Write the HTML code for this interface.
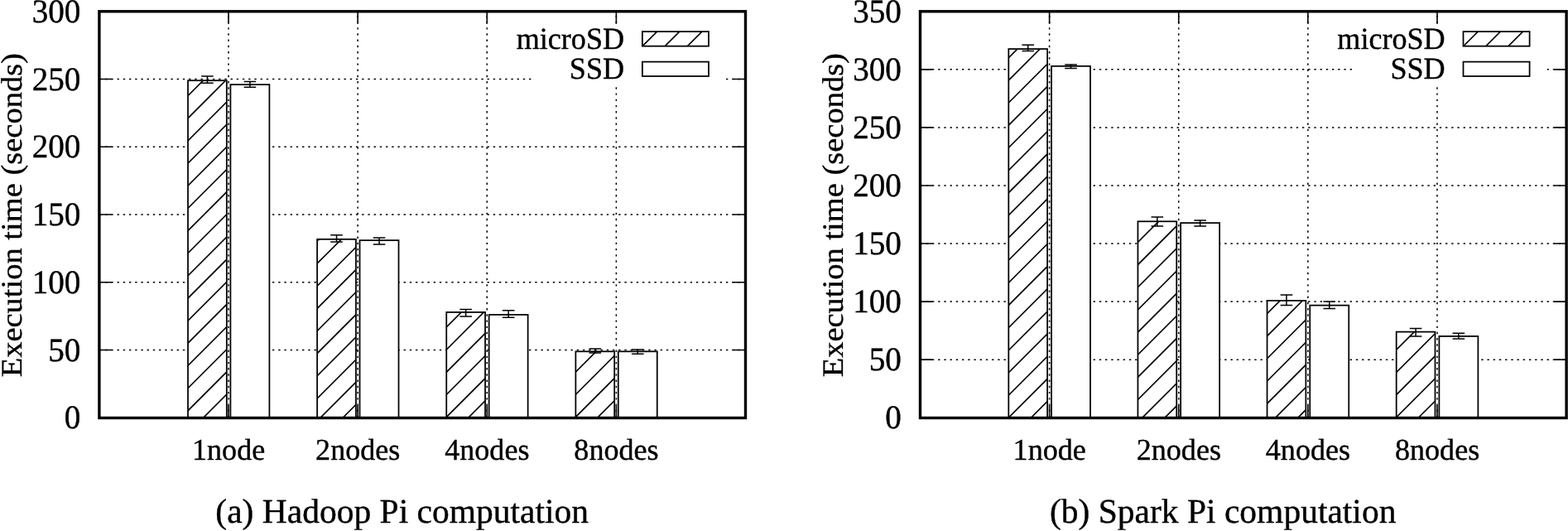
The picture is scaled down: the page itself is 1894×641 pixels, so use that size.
<!DOCTYPE html>
<html lang="en"><head><meta charset="utf-8"><title>Pi computation execution time</title>
<style>html,body{margin:0;padding:0;background:#fff;}body{width:1894px;height:641px;overflow:hidden;}svg{display:block;}text{font-family:"Liberation Serif", "Times New Roman", Times, serif;fill:#000;stroke:#000;stroke-width:0.4px;stroke-linejoin:round;text-rendering:geometricPrecision;}</style></head><body>
<svg width="1894" height="641" viewBox="0 0 1894 641">
<rect width="1894" height="641" fill="#fff"/>
<g transform="translate(0.00 0)">
<path d="M119.90 422.47H900.50M119.90 340.73H900.50M119.90 259.00H900.50M119.90 177.27H900.50M119.90 95.53H900.50M276.02 504.20V13.80M432.14 504.20V13.80M588.26 504.20V13.80M744.38 504.20V13.80" stroke="#000" stroke-width="1.5" stroke-dasharray="2.4 4.81" fill="none"/>
<path d="M119.90 422.47h15.0M900.50 422.47h-15.0M119.90 340.73h15.0M900.50 340.73h-15.0M119.90 259.00h15.0M900.50 259.00h-15.0M119.90 177.27h15.0M900.50 177.27h-15.0M119.90 95.53h15.0M900.50 95.53h-15.0M276.02 504.20v-15.0M276.02 13.80v15.0M432.14 504.20v-15.0M432.14 13.80v15.0M588.26 504.20v-15.0M588.26 13.80v15.0M744.38 504.20v-15.0M744.38 13.80v15.0" stroke="#000" stroke-width="1.6" fill="none"/>
<clipPath id="c1"><rect x="227.02" y="97.20" width="46.80" height="407.00"/></clipPath><rect x="227.02" y="97.20" width="46.80" height="407.00" fill="#fff"/><path d="M225.02 117.57L275.82 66.77M225.02 144.72L275.82 93.92M225.02 171.88L275.82 121.08M225.02 199.03L275.82 148.23M225.02 226.18L275.82 175.38M225.02 253.33L275.82 202.53M225.02 280.49L275.82 229.69M225.02 307.64L275.82 256.84M225.02 334.79L275.82 283.99M225.02 361.95L275.82 311.15M225.02 389.10L275.82 338.30M225.02 416.25L275.82 365.45M225.02 443.40L275.82 392.60M225.02 470.56L275.82 419.76M225.02 497.71L275.82 446.91M225.02 524.86L275.82 474.06M225.02 552.02L275.82 501.22" stroke="#000" stroke-width="1.65" fill="none" clip-path="url(#c1)"/><rect x="227.02" y="97.20" width="46.80" height="407.00" fill="none" stroke="#000" stroke-width="1.75"/>
<rect x="278.42" y="102.10" width="47.00" height="402.10" fill="#fff" stroke="#000" stroke-width="1.75"/>
<path d="M250.42 91.90V100.30M243.12 91.90H257.72M243.12 100.30H257.72" stroke="#000" stroke-width="1.5" fill="none"/>
<path d="M301.92 98.60V105.20M294.62 98.60H309.22M294.62 105.20H309.22" stroke="#000" stroke-width="1.5" fill="none"/>
<clipPath id="c2"><rect x="383.14" y="288.80" width="46.80" height="215.40"/></clipPath><rect x="383.14" y="288.80" width="46.80" height="215.40" fill="#fff"/><path d="M381.14 292.89L431.94 242.09M381.14 320.04L431.94 269.24M381.14 347.19L431.94 296.39M381.14 374.35L431.94 323.55M381.14 401.50L431.94 350.70M381.14 428.65L431.94 377.85M381.14 455.81L431.94 405.01M381.14 482.96L431.94 432.16M381.14 510.11L431.94 459.31M381.14 537.26L431.94 486.46" stroke="#000" stroke-width="1.65" fill="none" clip-path="url(#c2)"/><rect x="383.14" y="288.80" width="46.80" height="215.40" fill="none" stroke="#000" stroke-width="1.75"/>
<rect x="434.54" y="290.10" width="47.00" height="214.10" fill="#fff" stroke="#000" stroke-width="1.75"/>
<path d="M406.54 283.80V291.90M399.24 283.80H413.84M399.24 291.90H413.84" stroke="#000" stroke-width="1.5" fill="none"/>
<path d="M458.04 287.10V295.10M450.74 287.10H465.34M450.74 295.10H465.34" stroke="#000" stroke-width="1.5" fill="none"/>
<clipPath id="c3"><rect x="539.26" y="376.90" width="46.80" height="127.30"/></clipPath><rect x="539.26" y="376.90" width="46.80" height="127.30" fill="#fff"/><path d="M537.26 396.90L588.06 346.10M537.26 424.05L588.06 373.25M537.26 451.20L588.06 400.40M537.26 478.36L588.06 427.56M537.26 505.51L588.06 454.71M537.26 532.66L588.06 481.86" stroke="#000" stroke-width="1.65" fill="none" clip-path="url(#c3)"/><rect x="539.26" y="376.90" width="46.80" height="127.30" fill="none" stroke="#000" stroke-width="1.75"/>
<rect x="590.66" y="379.90" width="47.00" height="124.30" fill="#fff" stroke="#000" stroke-width="1.75"/>
<path d="M562.66 373.60V381.90M555.36 373.60H569.96M555.36 381.90H569.96" stroke="#000" stroke-width="1.5" fill="none"/>
<path d="M614.16 374.80V383.30M606.86 374.80H621.46M606.86 383.30H621.46" stroke="#000" stroke-width="1.5" fill="none"/>
<clipPath id="c4"><rect x="695.38" y="424.30" width="46.80" height="79.90"/></clipPath><rect x="695.38" y="424.30" width="46.80" height="79.90" fill="#fff"/><path d="M693.38 451.03L744.18 400.23M693.38 478.18L744.18 427.38M693.38 505.33L744.18 454.53M693.38 532.49L744.18 481.69" stroke="#000" stroke-width="1.65" fill="none" clip-path="url(#c4)"/><rect x="695.38" y="424.30" width="46.80" height="79.90" fill="none" stroke="#000" stroke-width="1.75"/>
<rect x="746.78" y="424.30" width="47.00" height="79.90" fill="#fff" stroke="#000" stroke-width="1.75"/>
<path d="M718.78 420.90V426.10M711.48 420.90H726.08M711.48 426.10H726.08" stroke="#000" stroke-width="1.5" fill="none"/>
<path d="M770.28 422.10V427.30M762.98 422.10H777.58M762.98 427.30H777.58" stroke="#000" stroke-width="1.5" fill="none"/>
<rect x="644" y="29.5" width="233" height="73" fill="#fff"/>
<clipPath id="c5"><rect x="775.90" y="38.15" width="80.10" height="17.55"/></clipPath><rect x="775.90" y="38.15" width="80.10" height="17.55" fill="#fff"/><path d="M773.90 57.85L858.00 -26.25M773.90 85.00L858.00 0.90M773.90 112.15L858.00 28.05M773.90 139.30L858.00 55.20" stroke="#000" stroke-width="1.65" fill="none" clip-path="url(#c5)"/><rect x="775.90" y="38.15" width="80.10" height="17.55" fill="none" stroke="#000" stroke-width="1.75"/>
<rect x="775.90" y="74.60" width="80.10" height="17.40" fill="#fff" stroke="#000" stroke-width="1.75"/>
<text transform="translate(754.10 59.20) scale(0.976 1.0)" font-size="37" text-anchor="end">microSD</text>
<text transform="translate(754.10 95.00) scale(0.976 1.0)" font-size="37" text-anchor="end">SSD</text>
<rect x="119.90" y="13.78" width="780.60" height="490.72" fill="none" stroke="#000" stroke-width="3.4"/>
<text transform="translate(97.30 517.40) scale(1.0 1.028)" font-size="39.1" text-anchor="end">0</text>
<text transform="translate(97.30 435.67) scale(1.0 1.028)" font-size="39.1" text-anchor="end">50</text>
<text transform="translate(97.30 353.93) scale(1.0 1.028)" font-size="39.1" text-anchor="end">100</text>
<text transform="translate(97.30 272.20) scale(1.0 1.028)" font-size="39.1" text-anchor="end">150</text>
<text transform="translate(97.30 190.47) scale(1.0 1.028)" font-size="39.1" text-anchor="end">200</text>
<text transform="translate(97.30 108.73) scale(1.0 1.028)" font-size="39.1" text-anchor="end">250</text>
<text transform="translate(97.30 27.00) scale(1.0 1.028)" font-size="39.1" text-anchor="end">300</text>
<text transform="translate(276.12 554.90) scale(0.989 1.0)" font-size="36.5" text-anchor="middle">1node</text>
<text transform="translate(432.24 554.90) scale(0.989 1.0)" font-size="36.5" text-anchor="middle">2nodes</text>
<text transform="translate(588.36 554.90) scale(0.989 1.0)" font-size="36.5" text-anchor="middle">4nodes</text>
<text transform="translate(744.48 554.90) scale(0.989 1.0)" font-size="36.5" text-anchor="middle">8nodes</text>
<text transform="translate(26.40 259.70) rotate(-90) scale(1.0 0.93)" font-size="38.5" text-anchor="middle">Execution time (seconds)</text>
<text transform="translate(485.70 630.50)" font-size="41.5" text-anchor="middle">(a) Hadoop Pi computation</text>
</g>
<g transform="translate(991.60 0)">
<path d="M119.90 434.14H900.50M119.90 364.09H900.50M119.90 294.03H900.50M119.90 223.97H900.50M119.90 153.91H900.50M119.90 83.86H900.50M276.02 504.20V13.80M432.14 504.20V13.80M588.26 504.20V13.80M744.38 504.20V13.80" stroke="#000" stroke-width="1.5" stroke-dasharray="2.4 4.81" fill="none"/>
<path d="M119.90 434.14h15.0M900.50 434.14h-15.0M119.90 364.09h15.0M900.50 364.09h-15.0M119.90 294.03h15.0M900.50 294.03h-15.0M119.90 223.97h15.0M900.50 223.97h-15.0M119.90 153.91h15.0M900.50 153.91h-15.0M119.90 83.86h15.0M900.50 83.86h-15.0M276.02 504.20v-15.0M276.02 13.80v15.0M432.14 504.20v-15.0M432.14 13.80v15.0M588.26 504.20v-15.0M588.26 13.80v15.0M744.38 504.20v-15.0M744.38 13.80v15.0" stroke="#000" stroke-width="1.6" fill="none"/>
<clipPath id="c6"><rect x="226.72" y="59.10" width="46.80" height="445.10"/></clipPath><rect x="226.72" y="59.10" width="46.80" height="445.10" fill="#fff"/><path d="M224.72 71.74L275.52 20.94M224.72 98.89L275.52 48.09M224.72 126.05L275.52 75.25M224.72 153.20L275.52 102.40M224.72 180.35L275.52 129.55M224.72 207.50L275.52 156.70M224.72 234.66L275.52 183.86M224.72 261.81L275.52 211.01M224.72 288.96L275.52 238.16M224.72 316.12L275.52 265.32M224.72 343.27L275.52 292.47M224.72 370.42L275.52 319.62M224.72 397.58L275.52 346.78M224.72 424.73L275.52 373.93M224.72 451.88L275.52 401.08M224.72 479.03L275.52 428.23M224.72 506.19L275.52 455.39M224.72 533.34L275.52 482.54" stroke="#000" stroke-width="1.65" fill="none" clip-path="url(#c6)"/><rect x="226.72" y="59.10" width="46.80" height="445.10" fill="none" stroke="#000" stroke-width="1.75"/>
<rect x="278.42" y="79.85" width="47.00" height="424.35" fill="#fff" stroke="#000" stroke-width="1.75"/>
<path d="M250.12 54.30V61.40M242.82 54.30H257.42M242.82 61.40H257.42" stroke="#000" stroke-width="1.5" fill="none"/>
<path d="M301.92 78.10V82.40M294.62 78.10H309.22M294.62 82.40H309.22" stroke="#000" stroke-width="1.5" fill="none"/>
<clipPath id="c7"><rect x="382.84" y="267.30" width="46.80" height="236.90"/></clipPath><rect x="382.84" y="267.30" width="46.80" height="236.90" fill="#fff"/><path d="M380.84 267.25L431.64 216.45M380.84 294.40L431.64 243.60M380.84 321.56L431.64 270.76M380.84 348.71L431.64 297.91M380.84 375.86L431.64 325.06M380.84 403.02L431.64 352.22M380.84 430.17L431.64 379.37M380.84 457.32L431.64 406.52M380.84 484.48L431.64 433.68M380.84 511.63L431.64 460.83M380.84 538.78L431.64 487.98" stroke="#000" stroke-width="1.65" fill="none" clip-path="url(#c7)"/><rect x="382.84" y="267.30" width="46.80" height="236.90" fill="none" stroke="#000" stroke-width="1.75"/>
<rect x="434.54" y="269.10" width="47.00" height="235.10" fill="#fff" stroke="#000" stroke-width="1.75"/>
<path d="M406.24 261.90V272.90M398.94 261.90H413.54M398.94 272.90H413.54" stroke="#000" stroke-width="1.5" fill="none"/>
<path d="M458.04 266.10V272.90M450.74 266.10H465.34M450.74 272.90H465.34" stroke="#000" stroke-width="1.5" fill="none"/>
<clipPath id="c8"><rect x="538.96" y="362.90" width="46.80" height="141.30"/></clipPath><rect x="538.96" y="362.90" width="46.80" height="141.30" fill="#fff"/><path d="M536.96 380.55L587.76 329.75M536.96 407.70L587.76 356.90M536.96 434.86L587.76 384.06M536.96 462.01L587.76 411.21M536.96 489.16L587.76 438.36M536.96 516.32L587.76 465.52M536.96 543.47L587.76 492.67" stroke="#000" stroke-width="1.65" fill="none" clip-path="url(#c8)"/><rect x="538.96" y="362.90" width="46.80" height="141.30" fill="none" stroke="#000" stroke-width="1.75"/>
<rect x="590.66" y="368.60" width="47.00" height="135.60" fill="#fff" stroke="#000" stroke-width="1.75"/>
<path d="M562.36 355.90V368.40M555.06 355.90H569.66M555.06 368.40H569.66" stroke="#000" stroke-width="1.5" fill="none"/>
<path d="M614.16 364.10V372.60M606.86 364.10H621.46M606.86 372.60H621.46" stroke="#000" stroke-width="1.5" fill="none"/>
<clipPath id="c9"><rect x="695.08" y="400.60" width="46.80" height="103.60"/></clipPath><rect x="695.08" y="400.60" width="46.80" height="103.60" fill="#fff"/><path d="M693.08 424.27L743.88 373.47M693.08 451.42L743.88 400.62M693.08 478.57L743.88 427.77M693.08 505.73L743.88 454.93M693.08 532.88L743.88 482.08" stroke="#000" stroke-width="1.65" fill="none" clip-path="url(#c9)"/><rect x="695.08" y="400.60" width="46.80" height="103.60" fill="none" stroke="#000" stroke-width="1.75"/>
<rect x="746.78" y="405.90" width="47.00" height="98.30" fill="#fff" stroke="#000" stroke-width="1.75"/>
<path d="M718.48 396.60V405.90M711.18 396.60H725.78M711.18 405.90H725.78" stroke="#000" stroke-width="1.5" fill="none"/>
<path d="M770.28 402.30V409.10M762.98 402.30H777.58M762.98 409.10H777.58" stroke="#000" stroke-width="1.5" fill="none"/>
<rect x="644" y="29.5" width="233" height="73" fill="#fff"/>
<clipPath id="c10"><rect x="775.90" y="38.15" width="80.10" height="17.55"/></clipPath><rect x="775.90" y="38.15" width="80.10" height="17.55" fill="#fff"/><path d="M773.90 57.85L858.00 -26.25M773.90 85.00L858.00 0.90M773.90 112.15L858.00 28.05M773.90 139.30L858.00 55.20" stroke="#000" stroke-width="1.65" fill="none" clip-path="url(#c10)"/><rect x="775.90" y="38.15" width="80.10" height="17.55" fill="none" stroke="#000" stroke-width="1.75"/>
<rect x="775.90" y="74.60" width="80.10" height="17.40" fill="#fff" stroke="#000" stroke-width="1.75"/>
<text transform="translate(754.10 59.20) scale(0.976 1.0)" font-size="37" text-anchor="end">microSD</text>
<text transform="translate(754.10 95.00) scale(0.976 1.0)" font-size="37" text-anchor="end">SSD</text>
<rect x="119.90" y="13.78" width="780.60" height="490.72" fill="none" stroke="#000" stroke-width="3.4"/>
<text transform="translate(97.30 517.40) scale(1.0 1.028)" font-size="39.1" text-anchor="end">0</text>
<text transform="translate(97.30 447.34) scale(1.0 1.028)" font-size="39.1" text-anchor="end">50</text>
<text transform="translate(97.30 377.29) scale(1.0 1.028)" font-size="39.1" text-anchor="end">100</text>
<text transform="translate(97.30 307.23) scale(1.0 1.028)" font-size="39.1" text-anchor="end">150</text>
<text transform="translate(97.30 237.17) scale(1.0 1.028)" font-size="39.1" text-anchor="end">200</text>
<text transform="translate(97.30 167.11) scale(1.0 1.028)" font-size="39.1" text-anchor="end">250</text>
<text transform="translate(97.30 97.06) scale(1.0 1.028)" font-size="39.1" text-anchor="end">300</text>
<text transform="translate(97.30 27.00) scale(1.0 1.028)" font-size="39.1" text-anchor="end">350</text>
<text transform="translate(276.12 554.90) scale(0.989 1.0)" font-size="36.5" text-anchor="middle">1node</text>
<text transform="translate(432.24 554.90) scale(0.989 1.0)" font-size="36.5" text-anchor="middle">2nodes</text>
<text transform="translate(588.36 554.90) scale(0.989 1.0)" font-size="36.5" text-anchor="middle">4nodes</text>
<text transform="translate(744.48 554.90) scale(0.989 1.0)" font-size="36.5" text-anchor="middle">8nodes</text>
<text transform="translate(26.40 259.70) rotate(-90) scale(1.0 0.93)" font-size="38.5" text-anchor="middle">Execution time (seconds)</text>
<text transform="translate(485.60 630.50)" font-size="41.5" text-anchor="middle">(b) Spark Pi computation</text>
</g>
</svg></body></html>
